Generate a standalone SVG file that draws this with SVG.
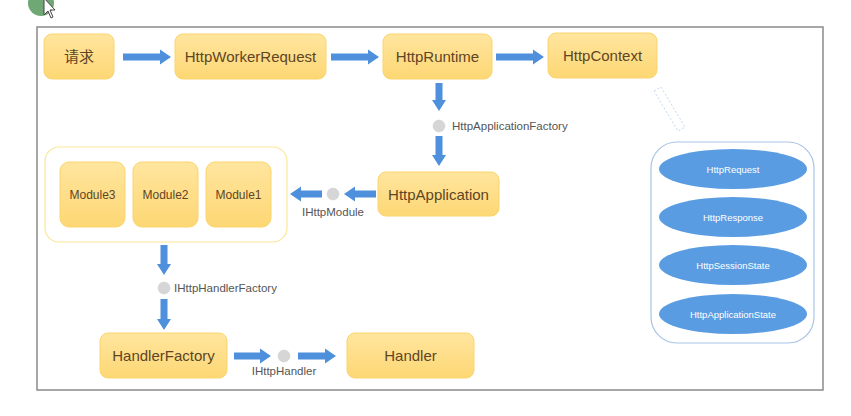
<svg xmlns="http://www.w3.org/2000/svg" width="851" height="416" viewBox="0 0 851 416">
<defs>
<linearGradient id="yg" x1="0" y1="0" x2="0" y2="1">
<stop offset="0" stop-color="#FFE59E"/>
<stop offset="1" stop-color="#FDD774"/>
</linearGradient>
<style>
.node{fill:url(#yg);stroke:#FBD46C;stroke-width:1}
.t{font-family:"Liberation Sans","Noto Sans CJK SC",sans-serif;fill:#5E4524;text-anchor:middle}
.big{font-size:15px}
.mid{font-size:12px}
.lbl{font-family:"Liberation Sans",sans-serif;font-size:11.5px;fill:#555;}
.arr{fill:#4F90DC}
.dot{fill:#D6D6D6;stroke:#CCCCCC;stroke-width:0.5}
.ell{fill:#5A9CE2}
.et{font-family:"Liberation Sans",sans-serif;font-size:9.5px;fill:#FFFFFF;text-anchor:middle}
</style>
</defs>
<rect width="851" height="416" fill="#FFFFFF"/>
<circle cx="41" cy="3" r="13" fill="#6FA874"/>
<path d="M44 -2 L44 15 L48 11 L51 18 L53 17 L50 10 L55 10 Z" fill="#FFFFFF" stroke="#444" stroke-width="1"/>
<rect x="37" y="27" width="786" height="363" fill="#FFFFFF" stroke="#8A8A8A" stroke-width="1.5"/>

<g id="connectors">
<polygon class="arr" points="123,53.5 160,53.5 160,49.5 171,57 160,64.5 160,60.5 123,60.5"/>
<polygon class="arr" points="331,53.5 368,53.5 368,49.5 379,57 368,64.5 368,60.5 331,60.5"/>
<polygon class="arr" points="496,53.5 533,53.5 533,49.5 544,57 533,64.5 533,60.5 496,60.5"/>
<polygon class="arr" points="435.5,83 442.5,83 442.5,100 446,100 439,111 432,100 435.5,100"/>
<polygon class="arr" points="435.5,136 442.5,136 442.5,155 446,155 439,166 432,155 435.5,155"/>
<polygon class="arr" points="376,190.5 355,190.5 355,186.5 344,194 355,201.5 355,197.5 376,197.5"/>
<polygon class="arr" points="322,190.5 301,190.5 301,186.5 290,194 301,201.5 301,197.5 322,197.5"/>
<polygon class="arr" points="160.5,245 167.5,245 167.5,264 171,264 164,275 157,264 160.5,264"/>
<polygon class="arr" points="160.5,299 167.5,299 167.5,319 171,319 164,330 157,319 160.5,319"/>
<polygon class="arr" points="234,352.5 260,352.5 260,348.5 271,356 260,363.5 260,359.5 234,359.5"/>
<polygon class="arr" points="298,352.5 325,352.5 325,348.5 336,356 325,363.5 325,359.5 298,359.5"/>
<circle class="dot" cx="439" cy="126" r="6"/>
<text class="lbl" x="452" y="130">HttpApplicationFactory</text>
<circle class="dot" cx="333" cy="194" r="6"/>
<text class="lbl" x="333" y="216" text-anchor="middle">IHttpModule</text>
<circle class="dot" cx="164" cy="288" r="6"/>
<text class="lbl" x="174" y="292">IHttpHandlerFactory</text>
<circle class="dot" cx="284" cy="356" r="6"/>
<text class="lbl" x="284" y="374.5" text-anchor="middle">IHttpHandler</text>
<polygon points="654,91 661,87 685,127 678,131" fill="none" stroke="#B5CCEA" stroke-width="0.8" stroke-dasharray="2,2"/>
</g>

<g id="n-request"><rect class="node" x="44" y="34" width="70" height="45" rx="8"/><text class="t big" x="79" y="62">请求</text></g>
<g id="n-workerrequest"><rect class="node" x="175" y="34" width="151" height="45" rx="8"/><text class="t big" x="250.5" y="62">HttpWorkerRequest</text></g>
<g id="n-runtime"><rect class="node" x="383" y="34" width="109" height="45" rx="8"/><text class="t big" x="437.5" y="62">HttpRuntime</text></g>
<g id="n-context"><rect class="node" x="548" y="33" width="109" height="45" rx="8"/><text class="t big" x="602.5" y="61">HttpContext</text></g>
<g id="n-application"><rect class="node" x="378" y="172" width="121" height="44" rx="8"/><text class="t big" x="438.5" y="200">HttpApplication</text></g>
<g id="n-modules">
<rect x="45" y="147" width="242" height="95" rx="14" fill="#FFFFFF" stroke="#FCE69A" stroke-width="1.2"/>
<g id="n-module3"><rect class="node" x="60" y="162" width="65" height="65" rx="9"/><text class="t mid" x="92.5" y="199">Module3</text></g>
<g id="n-module2"><rect class="node" x="133" y="162" width="65" height="65" rx="9"/><text class="t mid" x="165.5" y="199">Module2</text></g>
<g id="n-module1"><rect class="node" x="206" y="162" width="65" height="65" rx="9"/><text class="t mid" x="238.5" y="199">Module1</text></g>
</g>
<g id="n-handlerfactory"><rect class="node" x="100" y="333" width="127" height="45" rx="8"/><text class="t big" x="163.5" y="361">HandlerFactory</text></g>
<g id="n-handler"><rect class="node" x="347" y="333" width="127" height="45" rx="8"/><text class="t big" x="410.5" y="361">Handler</text></g>
<g id="n-contextmembers">
<rect x="651" y="142" width="163" height="201" rx="26" fill="#FFFFFF" stroke="#A9C3E6" stroke-width="1.2"/>
<g id="n-request-obj"><ellipse class="ell" cx="733" cy="169" rx="74" ry="20"/><text class="et" x="733" y="172.5">HttpRequest</text></g>
<g id="n-response"><ellipse class="ell" cx="733" cy="217" rx="74" ry="20"/><text class="et" x="733" y="220.5">HttpResponse</text></g>
<g id="n-session"><ellipse class="ell" cx="733" cy="265" rx="74" ry="20"/><text class="et" x="733" y="268.5">HttpSessionState</text></g>
<g id="n-appstate"><ellipse class="ell" cx="733" cy="314" rx="74" ry="20"/><text class="et" x="733" y="317.5">HttpApplicationState</text></g>
</g>
</svg>
